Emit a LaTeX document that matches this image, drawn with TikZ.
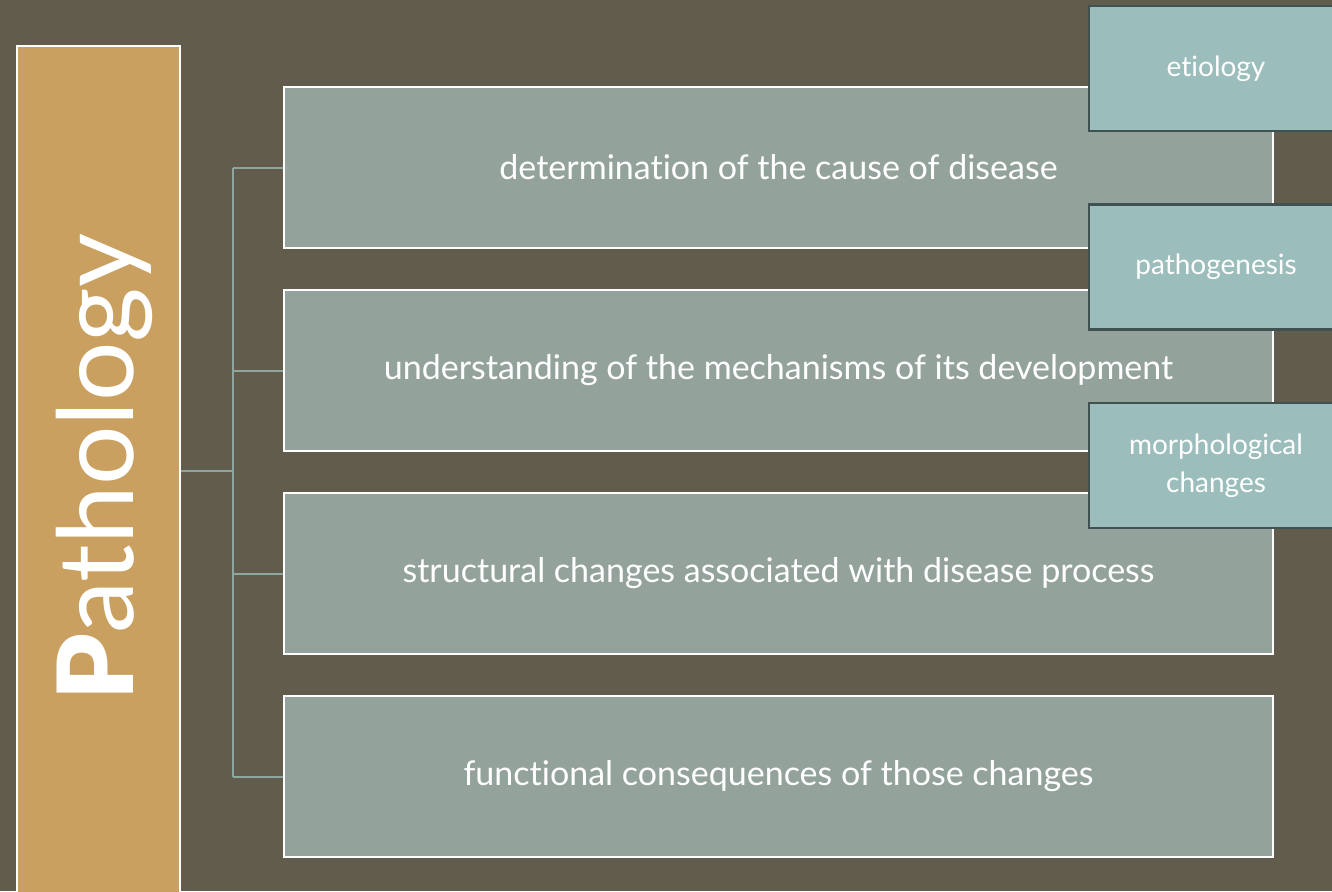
\documentclass[tikz,border=0pt]{standalone}
\usepackage{fontspec}
\setmainfont{Lato}[Ligatures=NoCommon, BoldFont={Lato Black}]
\usetikzlibrary{positioning,calc}

\definecolor{bgbrown}{HTML}{625C4C}
\definecolor{ochre}{HTML}{C9A060}
\definecolor{sage}{HTML}{93A39B}
\definecolor{aqua}{HTML}{9BBDBB}
\definecolor{slate}{HTML}{3F5151}
\definecolor{linkgray}{HTML}{8FA59F}

\tikzset{
	titlebox/.style={draw=white, line width=2pt, fill=ochre, minimum width=163pt, minimum height=849pt, inner sep=0pt},
	itembox/.style={draw=white, line width=2pt, fill=sage, text=white, minimum width=989pt, minimum height=161pt, inner sep=0pt, font=\fontsize{34}{40}\selectfont},
	tagbox/.style={draw=slate, line width=2.5pt, fill=aqua, text=white, minimum width=254pt, minimum height=125pt, inner sep=0pt, align=center, font=\fontsize{28}{38}\selectfont},
	link/.style={draw=linkgray, line width=2pt}
}

\begin{document}
\begin{tikzpicture}[x=1pt,y=-1pt]
	\fill[bgbrown] (0,0) rectangle (1332,891);
	\useasboundingbox (0,0) rectangle (1332,891);
	\clip (0,0) rectangle (1332,891);

	\node[titlebox] (title) at (98.5,470.5) {};
	\node[rotate=90, anchor=base, text=white, font=\fontsize{105}{120}\selectfont] (titletext) at (133,467) {{\bfseries P}athology};

	\node[itembox] (cause) at (778.5,167.5) {determination of the cause of disease};
	\node[itembox, below=40pt of cause] (mech) {understanding of the mechanisms of its development};
	\node[itembox, below=40pt of mech] (struct) {structural changes associated with disease process};
	\node[itembox, below=40pt of struct] (func) {functional consequences of those changes};

	\coordinate (spine) at ($(title.east)+(52,0)$);
	\draw[link] (title.east) -- (spine);
	\draw[link] (spine |- cause.west) -- (spine |- func.west);
	\foreach \b in {cause,mech,struct,func}
		\draw[link] (spine |- \b.west) -- (\b.west);

	\node[tagbox] (etio) at (1216,68.5) {etiology};
	\node[tagbox] (patho) at (1216,267) {pathogenesis};
	\node[tagbox] (morph) at (1216,465.5) {morphological\\changes};
\end{tikzpicture}
\end{document}
